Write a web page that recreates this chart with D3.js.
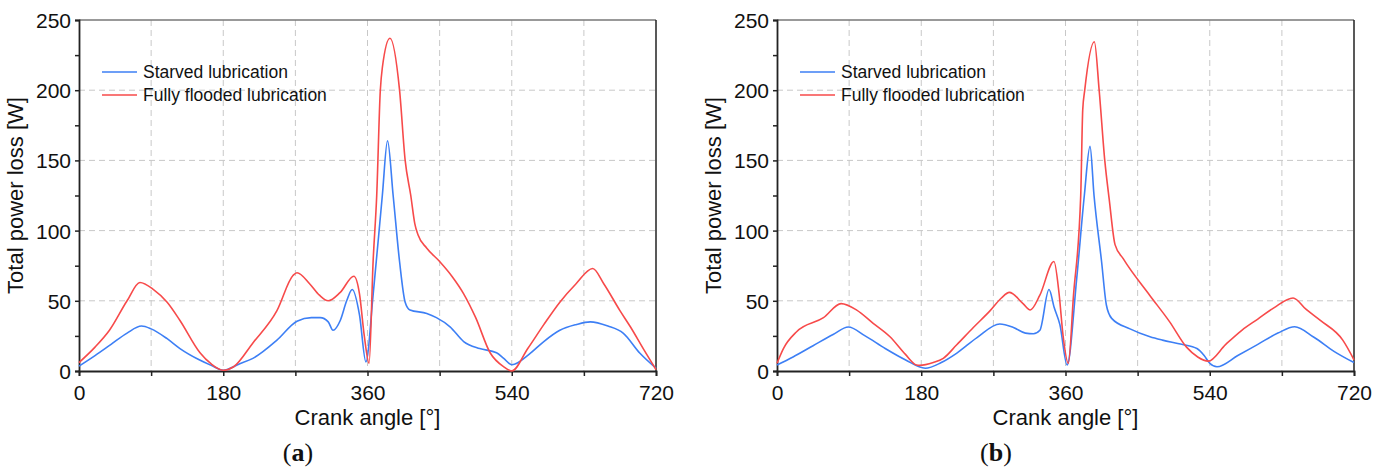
<!DOCTYPE html>
<html>
<head>
<meta charset="utf-8">
<script src="https://cdn.jsdelivr.net/npm/d3@7"></script>
<style>
  body { margin: 0; background: #fff; }
  svg { font-family: "Liberation Sans", Arial, sans-serif; }
  .grid line { stroke: #c8c8c8; stroke-dasharray: 6 4; stroke-width: 1; }
</style>
</head>
<body>
<svg width="1386" height="471"></svg>
<script>
// crank angle [deg], total power loss [W]
const starvedA = [[0,3.5],[20,11],[40,19],[60,27],[78,32],[90,30],[110,23],[126,16],[150,8],[165,4],[180,0.5],[200,5],[217,9],[247,22],[272,35.5],[290,38],[301,38],[311,35],[317,29],[326,36],[334,50],[341,58],[350,40],[358,6.5],[367,54],[378.5,125],[385,164],[392,125],[400,78],[407,49],[413,43.5],[434,41],[446,38],[463,31.5],[480,21],[500,16],[521,13],[530,9],[540,4.5],[563,12.6],[580,21],[600,29],[620,33],[638,35],[660,32],[679,27],[700,12.6],[720,2]];
const floodedA = [[0,6],[20,17],[38,29],[60,50],[76,63],[93,58],[110,49],[126,36],[151,13],[165,5],[180,0.5],[193,3],[217,20],[247,43],[267,68],[272,70],[288,62],[300,54],[311,50],[326,56],[343,67.5],[350,55],[356,25],[362,5.5],[367,78],[371.5,125],[376,200],[378.5,216],[388,237],[400,200],[407,150],[414,125],[419,105],[423,97],[434,87.5],[450,78],[466,67],[480,55],[495,38],[513,13],[530,3],[540,0],[560,16],[580,33],[600,49],[620,62],[641,73],[655,62],[675,43],[688,31.5],[705,15],[720,1]];

const starvedB = [[0,4.3],[20,10],[45,18],[70,26],[89,31.3],[110,25],[135,16],[160,8],[185,2],[205,6],[224,12.6],[250,24],[278,33.5],[295,31],[310,27],[320,26.5],[328,29],[339.4,58],[346,45],[353,33],[362,4.3],[374,66],[383.5,125],[390.6,160],[395.6,125],[405,78],[411,47],[417.6,37.5],[440.5,30],[465.4,24.4],[481,22],[505,19],[524,16],[533,11],[540,5.5],[549,3],[575,11],[600,19],[625,27],[646,31.5],[670,24],[695,14],[720,6]];
const floodedB = [[0,5.5],[8,16],[24.5,28],[58,38],[80,48],[99.5,43.4],[120,34],[141,24.4],[160,12],[174,4.3],[178,4],[195,6],[207.5,9],[224,18.5],[245,31],[266,43],[280,52],[290,56],[307,48],[316,43.5],[328,54],[345.6,78],[352,55],[357,25],[363.5,5.5],[370,54],[379,125],[381.5,186],[384,200],[396,234.5],[402,200],[409,150],[414.6,122],[421.8,90],[432,80],[465,54],[490,35],[511,17],[525,10],[538,7],[560,19],[580,29],[600,37],[620,45],[644,52],[660,44],[678,36],[706,22],[720,8]];

const xTickLabels = [0, 180, 360, 540, 720];
const xGridValues = [90, 180, 270, 360, 450, 540, 630];
const yTickLabels = [0, 50, 100, 150, 200, 250];
const seriesNames = ["Starved lubrication", "Fully flooded lubrication"];
const seriesColors = ["#3d7ff5", "#f74a4a"];

const svg = d3.select("svg");

function drawPanel(left, right, starved, flooded, label) {
  const top = 20, bottom = 371;
  const x = d3.scaleLinear().domain([0, 720]).range([left, right]);
  const y = d3.scaleLinear().domain([0, 250]).range([bottom, top]);
  const g = svg.append("g");

  // dashed grid
  const grid = g.append("g").attr("class", "grid");
  grid.selectAll(".vg").data(xGridValues).enter().append("line")
    .attr("x1", d => x(d)).attr("x2", d => x(d)).attr("y1", top).attr("y2", bottom);
  grid.selectAll(".hg").data([50, 100, 150, 200]).enter().append("line")
    .attr("x1", left).attr("x2", right).attr("y1", d => y(d)).attr("y2", d => y(d));

  // frame
  g.append("line").attr("x1", left).attr("x2", right).attr("y1", top).attr("y2", top)
    .attr("stroke", "#777").attr("stroke-width", 1.5);
  g.append("line").attr("x1", right).attr("x2", right).attr("y1", top).attr("y2", bottom)
    .attr("stroke", "#222").attr("stroke-width", 1.5);

  // axes
  const xAxis = d3.axisBottom(x).tickValues(d3.range(0, 721, 90))
    .tickSize(5).tickFormat(d => xTickLabels.includes(d) ? d : "");
  const gx = g.append("g").attr("transform", `translate(0,${bottom})`).call(xAxis);
  gx.select(".domain").attr("stroke", "#222").attr("stroke-width", 1.8);
  gx.selectAll(".tick line").attr("stroke", "#222").attr("stroke-width", 1.5);
  gx.selectAll("text").attr("font-size", 21).attr("fill", "#111").attr("dy", "1.0em");

  const yAxis = d3.axisLeft(y).tickValues(d3.range(0, 251, 25)).tickSize(4)
    .tickFormat(d => yTickLabels.includes(d) ? d : "");
  const gy = g.append("g").attr("transform", `translate(${left},0)`).call(yAxis);
  gy.select(".domain").attr("stroke", "#222").attr("stroke-width", 1.8);
  gy.selectAll(".tick line").attr("stroke", "#222").attr("stroke-width", 1.5);
  gy.selectAll("text").attr("font-size", 21).attr("fill", "#111").attr("x", -8).attr("dy", "0.36em");

  // lines
  const line = d3.line().x(d => x(d[0])).y(d => y(d[1])).curve(d3.curveMonotoneX);
  [starved, flooded].forEach((data, i) => {
    g.append("path").datum(data).attr("d", line)
      .attr("fill", "none").attr("stroke", seriesColors[i]).attr("stroke-width", 1.6);
  });

  // legend
  seriesNames.forEach((name, i) => {
    const ly = 72 + i * 23;
    g.append("line").attr("x1", left + 23).attr("x2", left + 58).attr("y1", ly).attr("y2", ly)
      .attr("stroke", seriesColors[i]).attr("stroke-width", 1.6);
    g.append("text").attr("x", left + 64).attr("y", ly + 6).attr("font-size", 17.5)
      .attr("fill", "#111").text(name);
  });

  // axis titles
  g.append("text").attr("x", (left + right) / 2).attr("y", 425)
    .attr("text-anchor", "middle").attr("font-size", 22).attr("fill", "#111")
    .text("Crank angle [°]");
  g.append("text").attr("transform", `translate(${left - 56},${(top + bottom) / 2}) rotate(-90)`)
    .attr("text-anchor", "middle").attr("font-size", 22).attr("fill", "#111")
    .text("Total power loss [W]");

  // panel label
  const pl = g.append("text").attr("x", left + 219).attr("y", 461)
    .attr("text-anchor", "middle").attr("font-family", "Liberation Serif, Times New Roman, serif")
    .attr("font-size", 26).attr("fill", "#111");
  pl.append("tspan").text("(");
  pl.append("tspan").attr("font-weight", "bold").text(label);
  pl.append("tspan").text(")");
}

drawPanel(79, 656, starvedA, floodedA, "a");
drawPanel(777, 1354, starvedB, floodedB, "b");
</script>
</body>
</html>
